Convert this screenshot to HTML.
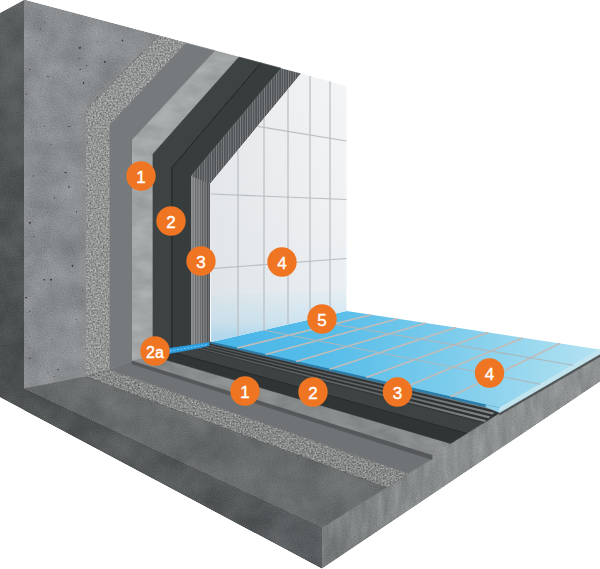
<!DOCTYPE html>
<html><head><meta charset="utf-8"><title>Tile system build-up</title>
<style>html,body{margin:0;padding:0;background:#fff}svg{display:block}text{stroke:#fff;stroke-width:0.4px;font-family:"Liberation Sans",Arial,sans-serif;fill:#fff;text-anchor:middle}</style>
</head><body>
<svg width="600" height="569" viewBox="0 0 600 569">
<defs>
<filter id="conc" x="0" y="0" width="100%" height="100%" color-interpolation-filters="sRGB">
 <feTurbulence type="fractalNoise" baseFrequency="0.035" numOctaves="3" seed="3" result="n"/>
 <feColorMatrix in="n" type="matrix" values="1 0 0 0 0  1 0 0 0 0  1 0 0 0 0  0 0 0 0 1" result="a"/>
 <feTurbulence type="fractalNoise" baseFrequency="0.8" numOctaves="2" seed="8" result="n2"/>
 <feColorMatrix in="n2" type="matrix" values="1 0 0 0 0  1 0 0 0 0  1 0 0 0 0  0 0 0 0 1" result="b"/>
 <feComposite in="SourceGraphic" in2="a" operator="arithmetic" k1="0" k2="1" k3="0.15" k4="-0.075" result="r1"/>
 <feComposite in="r1" in2="b" operator="arithmetic" k1="0" k2="1" k3="0.14" k4="-0.07" result="r2"/>
 <feTurbulence type="fractalNoise" baseFrequency="0.28" numOctaves="1" seed="21" result="n3"/>
 <feColorMatrix in="n3" type="matrix" values="0 0 0 0 0.25  0 0 0 0 0.26  0 0 0 0 0.27  14 0 0 0 -10.2" result="dots"/>
 <feComposite in="dots" in2="r2" operator="over" result="r3"/>
 <feComposite in="r3" in2="SourceAlpha" operator="in"/>
</filter>
<filter id="concD" x="0" y="0" width="100%" height="100%" color-interpolation-filters="sRGB">
 <feTurbulence type="fractalNoise" baseFrequency="0.03" numOctaves="3" seed="7" result="n"/>
 <feColorMatrix in="n" type="matrix" values="1 0 0 0 0  1 0 0 0 0  1 0 0 0 0  0 0 0 0 1" result="a"/>
 <feTurbulence type="fractalNoise" baseFrequency="0.8" numOctaves="2" seed="2" result="n2"/>
 <feColorMatrix in="n2" type="matrix" values="1 0 0 0 0  1 0 0 0 0  1 0 0 0 0  0 0 0 0 1" result="b"/>
 <feComposite in="SourceGraphic" in2="a" operator="arithmetic" k1="0" k2="1" k3="0.14" k4="-0.07" result="r1"/>
 <feComposite in="r1" in2="b" operator="arithmetic" k1="0" k2="1" k3="0.10" k4="-0.05" result="r2"/>
 <feComposite in="r2" in2="SourceAlpha" operator="in"/>
</filter>
<filter id="sidef" x="0" y="0" width="100%" height="100%" color-interpolation-filters="sRGB">
 <feTurbulence type="fractalNoise" baseFrequency="0.12 0.03" numOctaves="3" seed="4" result="n"/>
 <feColorMatrix in="n" type="matrix" values="1 0 0 0 0  1 0 0 0 0  1 0 0 0 0  0 0 0 0 1" result="a"/>
 <feTurbulence type="fractalNoise" baseFrequency="0.8" numOctaves="2" seed="9" result="n2"/>
 <feColorMatrix in="n2" type="matrix" values="1 0 0 0 0  1 0 0 0 0  1 0 0 0 0  0 0 0 0 1" result="b"/>
 <feComposite in="SourceGraphic" in2="a" operator="arithmetic" k1="0" k2="1" k3="0.16" k4="-0.08" result="r1"/>
 <feComposite in="r1" in2="b" operator="arithmetic" k1="0" k2="1" k3="0.12" k4="-0.06" result="r2"/>
 <feComposite in="r2" in2="SourceAlpha" operator="in"/>
</filter>
<filter id="rough" x="0" y="0" width="100%" height="100%" color-interpolation-filters="sRGB">
 <feTurbulence type="fractalNoise" baseFrequency="0.6" numOctaves="2" seed="5" result="n"/>
 <feColorMatrix in="n" type="matrix" values="1 0 0 0 0  1 0 0 0 0  1 0 0 0 0  0 0 0 0 1" result="a"/>
 <feComposite in="SourceGraphic" in2="a" operator="arithmetic" k1="0" k2="1" k3="0.5" k4="-0.25" result="r1"/>
 <feComposite in="r1" in2="SourceAlpha" operator="in"/>
</filter>
<filter id="soft" x="0" y="0" width="100%" height="100%" color-interpolation-filters="sRGB">
 <feTurbulence type="fractalNoise" baseFrequency="0.04 0.08" numOctaves="3" seed="11" result="n"/>
 <feColorMatrix in="n" type="matrix" values="1 0 0 0 0  1 0 0 0 0  1 0 0 0 0  0 0 0 0 1" result="a"/>
 <feComposite in="SourceGraphic" in2="a" operator="arithmetic" k1="0" k2="1" k3="0.14" k4="-0.07" result="r1"/>
 <feComposite in="r1" in2="SourceAlpha" operator="in"/>
</filter>
<linearGradient id="gWallTile" x1="0" y1="0" x2="0" y2="1">
 <stop offset="0" stop-color="#f4f5f6"/><stop offset="0.6" stop-color="#eff1f3"/><stop offset="0.82" stop-color="#e9eff3"/><stop offset="1" stop-color="#dcebf3"/>
</linearGradient>
<linearGradient id="gFloorTile" x1="211" y1="342" x2="600" y2="360" gradientUnits="userSpaceOnUse">
 <stop offset="0" stop-color="#47b5e8"/><stop offset="0.3" stop-color="#57bde9"/><stop offset="0.6" stop-color="#7acbec"/><stop offset="0.85" stop-color="#9fdaef"/><stop offset="1" stop-color="#b3e2f1"/>
</linearGradient>
<linearGradient id="gDarkFace" x1="0" y1="0" x2="0" y2="569" gradientUnits="userSpaceOnUse">
 <stop offset="0" stop-color="#5d6061"/><stop offset="0.3" stop-color="#505354"/><stop offset="1" stop-color="#494c4d"/>
</linearGradient>
<linearGradient id="gRefl" x1="0" y1="292" x2="0" y2="335" gradientUnits="userSpaceOnUse">
 <stop offset="0" stop-color="#9fd4f0" stop-opacity="0.06"/><stop offset="0.7" stop-color="#8ccdee" stop-opacity="0.2"/><stop offset="1" stop-color="#7cc7ee" stop-opacity="0.4"/>
</linearGradient>
<linearGradient id="gFront" x1="24" y1="0" x2="322" y2="0" gradientUnits="userSpaceOnUse">
 <stop offset="0" stop-color="#4f5253"/><stop offset="1" stop-color="#5a5d5f"/>
</linearGradient>
<linearGradient id="gSide" x1="322" y1="0" x2="600" y2="0" gradientUnits="userSpaceOnUse">
 <stop offset="0" stop-color="#797c7d"/><stop offset="0.35" stop-color="#898c8d"/><stop offset="1" stop-color="#8e9192"/>
</linearGradient>
<linearGradient id="gRib" x1="211" y1="0" x2="500" y2="0" gradientUnits="userSpaceOnUse">
 <stop offset="0" stop-color="#55585a"/><stop offset="0.6" stop-color="#646769"/><stop offset="1" stop-color="#888b8d"/>
</linearGradient>
<pattern id="ribD" width="2.4" height="10" patternUnits="userSpaceOnUse">
 <rect width="2.4" height="10" fill="#4e5153"/><rect width="0.9" height="10" fill="#808385"/>
</pattern>
<pattern id="ribV" width="2.4" height="10" x="0.6" patternUnits="userSpaceOnUse">
 <rect width="2.4" height="10" fill="#8b8e91"/><rect width="1" height="10" fill="#55585a"/>
</pattern>
<linearGradient id="gRibShade" x1="191" y1="0" x2="210" y2="0" gradientUnits="userSpaceOnUse">
 <stop offset="0" stop-color="#fff" stop-opacity="0.12"/><stop offset="1" stop-color="#000" stop-opacity="0.18"/>
</linearGradient>
<linearGradient id="gTileL" x1="210" y1="0" x2="346" y2="0" gradientUnits="userSpaceOnUse">
 <stop offset="0" stop-color="#c5cbd0" stop-opacity="0.3"/><stop offset="1" stop-color="#c5cbd0" stop-opacity="0"/>
</linearGradient>
</defs>
<rect width="600" height="569" fill="#ffffff"/>
<polygon points="0.0,13.0 24.0,0.0 24.0,388.5 322.0,527.5 322.0,568.5 0.0,397.2" fill="url(#gDarkFace)" filter="url(#concD)"/>
<polygon points="24.0,388.5 322.0,527.5 322.0,568.5 24.0,410.0" fill="url(#gFront)" filter="url(#concD)"/>
<polygon points="322.0,527.5 432.0,459.0 432.0,455.0 499.5,413.0 600.0,354.0 600.0,381.5 322.0,568.5" fill="url(#gSide)" filter="url(#sidef)"/>
<polygon points="499.5,412.5 600.0,354.0 600.0,356.5 499.5,415.0" fill="#505355" stroke="#505355" stroke-width="0.7" stroke-linejoin="round" />
<polygon points="24.0,388.5 322.0,527.5 386.6,487.3 86.0,376.5" fill="#696c6d" stroke="#696c6d" stroke-width="0.7" stroke-linejoin="round" filter="url(#concD)"/>
<polygon points="86.0,376.5 386.6,487.3 408.6,473.6 110.0,369.5" fill="#878988" stroke="#878988" stroke-width="0.7" stroke-linejoin="round" filter="url(#rough)"/>
<polygon points="110.0,369.5 408.6,473.6 432.0,459.0 432.1,454.9 132.0,360.5" fill="#707375" stroke="#707375" stroke-width="0.7" stroke-linejoin="round" />
<polygon points="132.0,360.5 432.0,455.0 432.0,459.5 132.0,364.0" fill="#56595b" stroke="#56595b" stroke-width="0.7" stroke-linejoin="round" />
<polygon points="132.0,360.5 432.1,454.9 450.6,443.4 153.0,356.0" fill="#888b8c" stroke="#888b8c" stroke-width="0.7" stroke-linejoin="round" filter="url(#soft)"/>
<polygon points="153.0,356.0 450.6,443.4 466.7,433.4 172.0,352.1" fill="#303435" stroke="#303435" stroke-width="0.7" stroke-linejoin="round" />
<polygon points="172.0,352.1 466.7,433.4 483.4,423.0 191.0,347.5" fill="#3d4243" stroke="#3d4243" stroke-width="0.7" stroke-linejoin="round" />
<line x1="172.0" y1="352.1" x2="466.7" y2="433.4" stroke="#202425" stroke-width="0.9"/>
<polygon points="191.0,347.5 483.4,423.0 499.5,413.0 499.5,408.0 211.0,342.0" fill="#2f3334" stroke="#2f3334" stroke-width="0.7" stroke-linejoin="round" />
<polygon points="209.8,342.3 498.5,408.9 496.6,410.7 207.4,343.0" fill="url(#gRib)" />
<polygon points="204.8,343.7 494.5,412.7 492.6,414.5 202.4,344.4" fill="url(#gRib)" />
<polygon points="199.8,345.1 490.5,416.4 488.6,418.2 197.4,345.8" fill="url(#gRib)" />
<polygon points="194.8,346.5 486.4,420.2 484.6,422.0 192.4,347.1" fill="url(#gRib)" />
<polygon points="211.0,342.0 346.5,311.0 600.0,349.5 499.5,408.0" fill="url(#gFloorTile)" />
<polygon points="211.0,342.0 499.5,408.0 499.5,410.0 211.0,343.2" fill="#2a7fad" stroke="#2a7fad" stroke-width="0.7" stroke-linejoin="round" />
<polygon points="486.0,404.9 499.5,408.0 499.5,412.5 486.0,406.9" fill="#8fd0ea" stroke="#8fd0ea" stroke-width="0.7" stroke-linejoin="round" />
<polygon points="499.5,408.0 600.0,349.5 600.0,354.0 499.5,412.5" fill="#c2e4ee" stroke="#c2e4ee" stroke-width="0.7" stroke-linejoin="round" />
<g stroke="#c2bcb9" stroke-width="1.6" fill="none"><line x1="237.2" y1="348.0" x2="371.4" y2="314.8"/><line x1="265.5" y1="354.5" x2="397.8" y2="318.8"/><line x1="296.3" y1="361.5" x2="425.9" y2="323.1"/><line x1="329.7" y1="369.2" x2="456.0" y2="327.6"/><line x1="366.3" y1="377.5" x2="488.2" y2="332.5"/><line x1="406.4" y1="386.7" x2="522.8" y2="337.8"/><line x1="450.6" y1="396.8" x2="559.9" y2="343.4"/></g>
<g stroke="#adb6bb" stroke-width="1.1" fill="none"><line x1="263.3" y1="330.0" x2="540.3" y2="384.2"/><line x1="307.9" y1="319.8" x2="573.1" y2="365.2"/></g>
<polygon points="24.0,0.0 159.0,35.8 86.0,110.0 86.0,376.5 24.0,388.5" fill="#8a8d8f" stroke="#8a8d8f" stroke-width="0.7" stroke-linejoin="round" filter="url(#conc)"/>
<polygon points="159.0,35.8 186.0,43.0 110.0,125.0 110.0,369.5 86.0,376.5 86.0,110.0" fill="#939594" stroke="#939594" stroke-width="0.7" stroke-linejoin="round" filter="url(#rough)"/>
<polygon points="186.0,43.0 215.0,50.7 132.0,140.0 132.0,360.5 110.0,369.5 110.0,125.0" fill="#777a7c" stroke="#777a7c" stroke-width="0.7" stroke-linejoin="round" />
<polygon points="215.0,50.7 239.0,57.1 153.0,154.0 153.0,356.0 132.0,360.5 132.0,140.0" fill="#a2a6a7" stroke="#a2a6a7" stroke-width="0.7" stroke-linejoin="round" filter="url(#soft)"/>
<polygon points="239.0,57.1 261.0,62.9 172.0,167.5 172.0,352.1 153.0,356.0 153.0,154.0" fill="#3d4243" stroke="#3d4243" stroke-width="0.7" stroke-linejoin="round" />
<polygon points="261.0,62.9 281.0,68.2 191.0,176.0 191.0,347.5 172.0,352.1 172.0,167.5" fill="#373c3d" stroke="#373c3d" stroke-width="0.7" stroke-linejoin="round" />
<polyline points="261.0,62.9 172.0,167.5 172.0,352.1" fill="none" stroke="#1f2324" stroke-width="1"/>
<polygon points="281.0,68.2 301.0,73.5 210.0,184.0 210.0,343.0 191.0,347.5 191.0,176.0" fill="url(#ribD)" />
<polygon points="191.0,176.0 210.0,184.0 210.0,343.0 191.0,347.5" fill="url(#ribV)" />
<polygon points="191.0,176.0 210.0,184.0 210.0,343.0 191.0,347.5" fill="url(#gRibShade)" />
<polygon points="301.0,73.5 346.5,86.3 346.5,311.0 211.0,342.0 210.0,184.0" fill="url(#gWallTile)" />
<polygon points="301.0,73.5 346.5,86.3 346.5,311.0 211.0,342.0 210.0,184.0" fill="url(#gTileL)" />
<polygon points="211.0,296.0 346.0,290.0 346.5,311.0 211.0,342.0" fill="url(#gRefl)" />
<g stroke="#b9bec2" stroke-width="1.2" fill="none"><line x1="238" y1="150.0" x2="238" y2="335.8"/><line x1="264" y1="118.4" x2="264" y2="329.8"/><line x1="288" y1="89.3" x2="288" y2="324.3"/><line x1="310" y1="75.9" x2="310" y2="319.3"/><line x1="330" y1="81.2" x2="330" y2="314.7"/><line x1="257.6" y1="126.3" x2="346.5" y2="141"/><line x1="211.0" y1="194.0" x2="346.5" y2="199.5"/><line x1="211.0" y1="268.6" x2="346.5" y2="258.5"/></g>
<polygon points="169.0,348.5 209.0,342.5 209.0,345.5 196.0,348.5 169.0,353.5" fill="#2a9fe2" stroke="#2a9fe2" stroke-width="0.7" stroke-linejoin="round" />
<line x1="170" y1="351" x2="208" y2="344.5" stroke="#7fcbf2" stroke-width="1" stroke-dasharray="2 1.5"/>
<circle cx="141" cy="176" r="14.7" fill="#f07522"/><text x="141" y="182.6" font-size="17">1</text>
<circle cx="171" cy="221" r="14.7" fill="#f07522"/><text x="171" y="227.6" font-size="17">2</text>
<circle cx="201" cy="261" r="14.7" fill="#f07522"/><text x="201" y="267.6" font-size="17">3</text>
<circle cx="282" cy="262" r="14.7" fill="#f07522"/><text x="282" y="268.6" font-size="17">4</text>
<circle cx="322" cy="319" r="14.7" fill="#f07522"/><text x="322" y="325.6" font-size="17">5</text>
<circle cx="245" cy="391" r="14.7" fill="#f07522"/><text x="245" y="397.6" font-size="17">1</text>
<circle cx="313" cy="392" r="14.7" fill="#f07522"/><text x="313" y="398.6" font-size="17">2</text>
<circle cx="397.5" cy="392" r="14.7" fill="#f07522"/><text x="397.5" y="398.6" font-size="17">3</text>
<circle cx="489.5" cy="373" r="14.7" fill="#f07522"/><text x="489.5" y="379.6" font-size="17">4</text>
<circle cx="155" cy="351" r="14.7" fill="#f07522"/><text x="155" y="357.6" font-size="16">2a</text>
</svg>
</body></html>
